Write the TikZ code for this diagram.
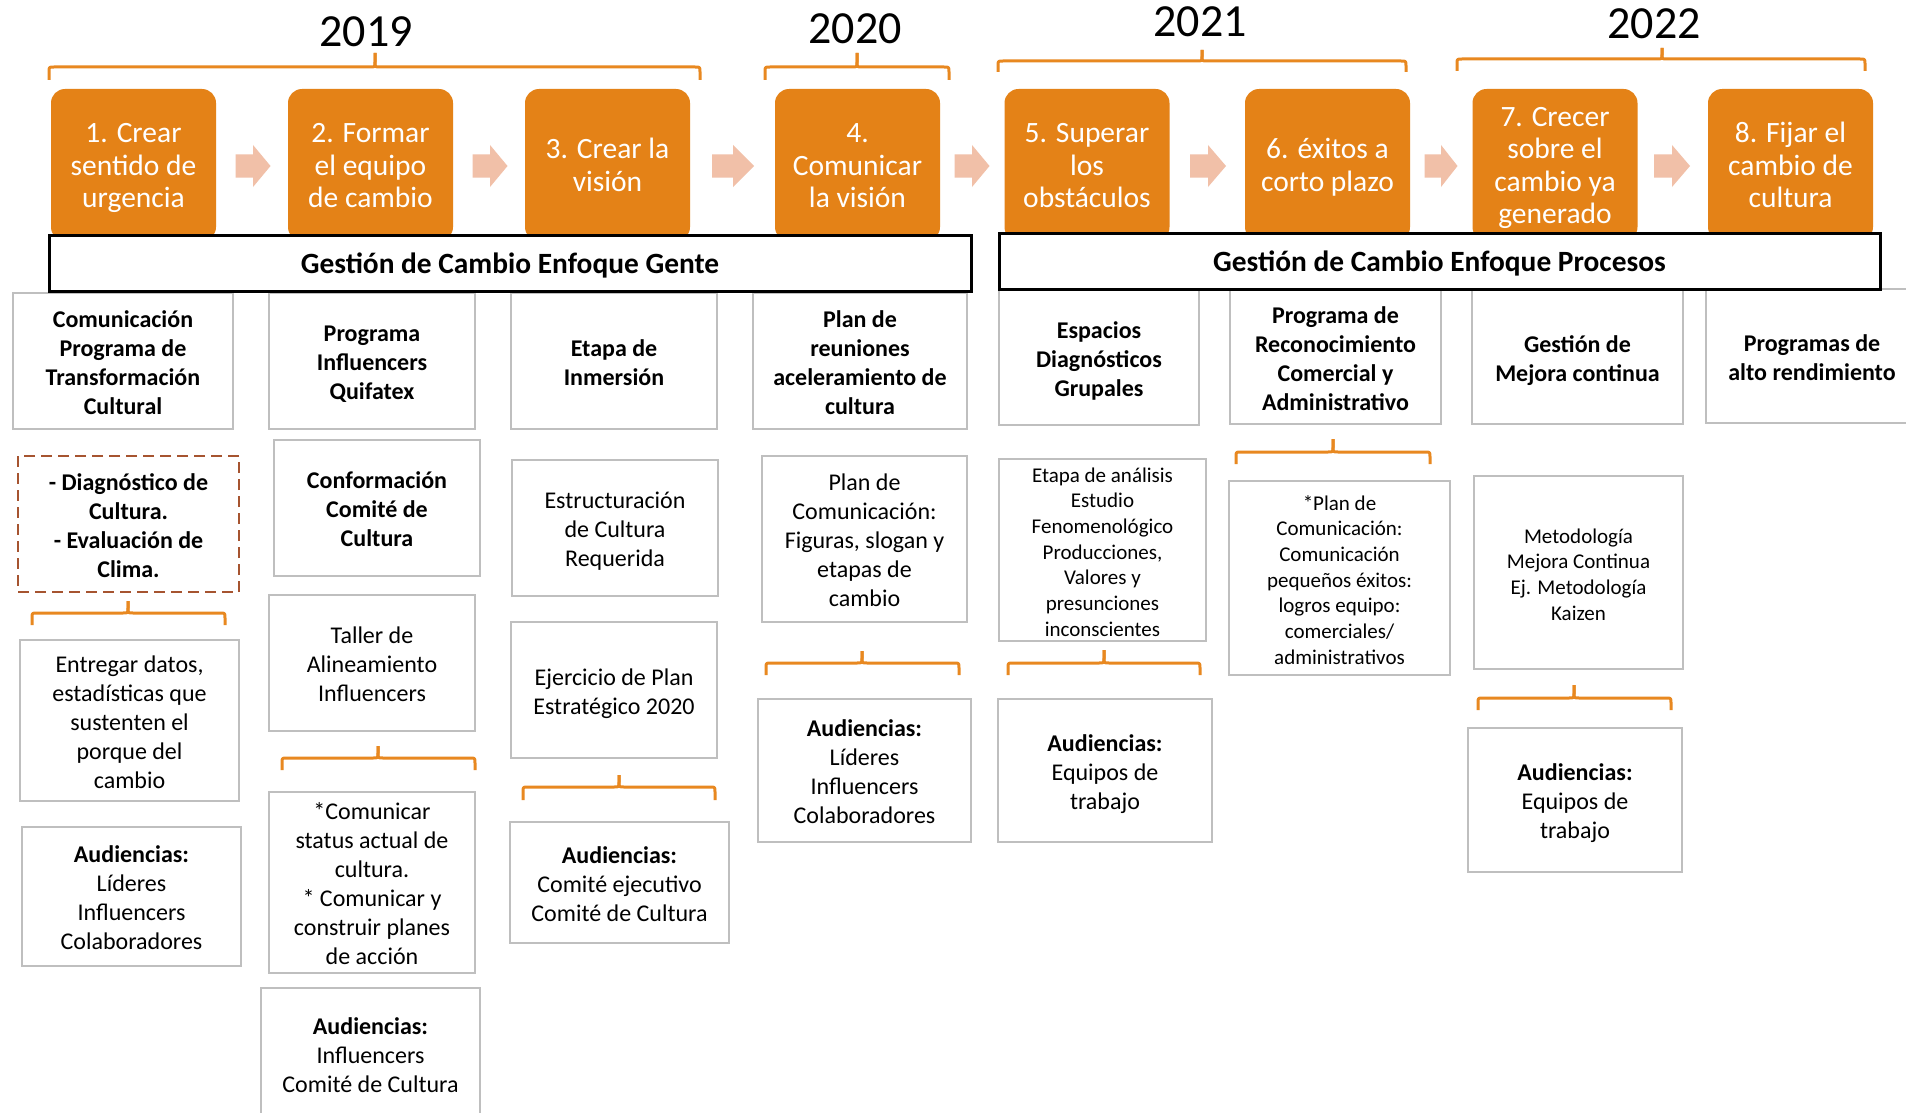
\documentclass[tikz,border=0pt]{standalone}
\usepackage{fontspec}
\setmainfont{Carlito}
\definecolor{orangeA}{RGB}{228,130,23}
\definecolor{chevcol}{RGB}{241,192,168}
\definecolor{graybd}{RGB}{191,191,191}
\definecolor{dashbd}{RGB}{166,84,48}
\definecolor{bracecol}{RGB}{232,136,32}
\tikzset{
  stepbox/.style={fill=orangeA, rounded corners=14pt, text=white, align=center,
    minimum width=165pt, minimum height=152pt, inner sep=0pt,
    font=\fontsize{29.5}{32.5}\selectfont},
  bandbox/.style={draw=black, line width=3pt, fill=white, inner sep=0pt,
    font=\bfseries\fontsize{29.4}{34}\selectfont},
  gbox/.style={draw=graybd, line width=2pt, fill=white, align=center, inner sep=0pt,
    font=\fontsize{24}{29}\selectfont},
  hbox/.style={gbox, font=\bfseries\fontsize{24}{29}\selectfont},
  sbox/.style={gbox, font=\fontsize{21}{25.7}\selectfont},
  dbox/.style={draw=dashbd, line width=2pt, dash pattern=on 11pt off 6pt, fill=white,
    align=center, inner sep=0pt, font=\bfseries\fontsize{24}{29}\selectfont},
  yearlbl/.style={inner sep=0pt, font=\fontsize{46}{50}\selectfont},
  bracestyle/.style={draw=bracecol, line width=3pt, line join=round},
}
% brace: x1, x2, xmid, ytip, yhoriz, yend
\newcommand\obr[6]{%
  \draw[bracestyle] (#1,#6) -- (#1,#5+5) .. controls (#1,#5) .. (#1+5,#5)
     -- (#3-5,#5) .. controls (#3,#5) .. (#3,#5-5) -- (#3,#4);
  \draw[bracestyle] (#2,#6) -- (#2,#5+5) .. controls (#2,#5) .. (#2-5,#5)
     -- (#3+5,#5) .. controls (#3,#5) .. (#3,#5-5) -- (#3,#4);}
% chevron block arrow: cx, cy, length
\newcommand\chev[3]{%
  \fill[chevcol] (#1-#3/2,#2-11.5) -- (#1,#2-11.5) -- (#1,#2-21) -- (#1+#3/2,#2)
     -- (#1,#2+21) -- (#1,#2+11.5) -- (#1-#3/2,#2+11.5) -- cycle;}
% text block lowered by #1 without changing its box
\newcommand\lines[2]{\raisebox{-#1}[\height][\depth]{\begin{tabular}{@{}c@{}}#2\end{tabular}}}
\newcommand\st[1]{\lines{3.5pt}{#1}}
\newcommand\gt[1]{\lines{4pt}{#1}}
\begin{document}
\begin{tikzpicture}[x=1pt,y=-1pt]
\useasboundingbox (0,0) rectangle (1906,1113);
\fill[white] (0,0) rectangle (1906,1113);
\clip (0,0) rectangle (1906,1113);

% years
\node[yearlbl] (y19) at (366,32) {2019};
\node[yearlbl] (y20) at (855,29) {2020};
\node[yearlbl] (y21) at (1200,22) {2021};
\node[yearlbl] (y22) at (1654,24) {2022};

% top braces
\obr{49}{700}{375}{53}{67}{80}
\obr{765}{949}{857}{53}{67}{80}
\obr{998}{1406}{1202}{50}{61}{72}
\obr{1457}{1865}{1662}{48}{59}{71}

% orange steps
\node[stepbox] (s1) at (133.5,165) {\st{1. Crear\\sentido de\\urgencia}};
\node[stepbox] (s2) at (370.5,165) {\st{2. Formar\\el equipo\\de cambio}};
\node[stepbox] (s3) at (607.5,165) {\st{3. Crear la\\visión}};
\node[stepbox] (s4) at (857.5,165) {\st{4.\\Comunicar\\la visión}};
\node[stepbox] (s5) at (1087,165) {\st{5. Superar\\los\\obstáculos}};
\node[stepbox] (s6) at (1327.5,165) {\st{6. éxitos a\\corto plazo}};
\node[stepbox] (s7) at (1555,165) {\st{7. Crecer\\sobre el\\cambio ya\\generado}};
\node[stepbox] (s8) at (1790.5,165) {\st{8. Fijar el\\cambio de\\cultura}};

% chevrons
\chev{253}{166}{35}
\chev{490}{166}{35}
\chev{733}{166}{42}
\chev{972}{166}{35}
\chev{1208}{166}{36}
\chev{1441}{166}{33}
\chev{1672}{166}{36}

% column 1
\node[hbox, minimum width=220pt, minimum height=136pt] (c1a) at (123,361)
  {\gt{Comunicación\\Programa de\\Transformación\\Cultural}};
\node[dbox, minimum width=221pt, minimum height=136pt] (c1b) at (128.5,524)
  {\gt{- Diagnóstico de\\Cultura.\\- Evaluación de\\Clima.}};
\obr{32}{225}{128}{601}{613}{625}
\node[gbox, minimum width=219pt, minimum height=161pt] (c1c) at (129.5,720.5)
  {\gt{Entregar datos,\\estadísticas que\\sustenten el\\porque del\\cambio}};
\node[gbox, minimum width=219pt, minimum height=139pt] (c1d) at (131.5,896.5)
  {\gt{\textbf{Audiencias:}\\Líderes\\Influencers\\Colaboradores}};

% column 2
\node[hbox, minimum width=206pt, minimum height=136pt] (c2a) at (372,361)
  {\gt{Programa\\Influencers\\Quifatex}};
\node[hbox, minimum width=206pt, minimum height=136pt] (c2b) at (377,508)
  {\gt{Conformación\\Comité de\\Cultura}};
\node[gbox, minimum width=206pt, minimum height=136pt] (c2c) at (372,663)
  {\gt{Taller de\\Alineamiento\\Influencers}};
\obr{282}{475}{378}{746}{758}{770}
\node[gbox, minimum width=206pt, minimum height=181pt] (c2d) at (372,882.5)
  {\gt{*Comunicar\\status actual de\\cultura.\\{}* Comunicar y\\construir planes\\de acción}};
\node[gbox, minimum width=219pt, minimum height=132pt] (c2e) at (370.5,1054)
  {\gt{\textbf{Audiencias:}\\Influencers\\Comité de Cultura}};

% column 3
\node[hbox, minimum width=206pt, minimum height=136pt] (c3a) at (614,361)
  {\gt{Etapa de\\Inmersión}};
\node[gbox, minimum width=206pt, minimum height=136pt] (c3b) at (615,528)
  {\gt{Estructuración\\de Cultura\\Requerida}};
\node[gbox, minimum width=206pt, minimum height=136pt] (c3c) at (614,690)
  {\gt{Ejercicio de Plan\\Estratégico 2020}};
\obr{523}{715}{619}{775}{787}{800}
\node[gbox, minimum width=219pt, minimum height=121pt] (c3d) at (619.5,882.5)
  {\gt{\textbf{Audiencias:}\\Comité ejecutivo\\Comité de Cultura}};

% column 4
\node[hbox, minimum width=214pt, minimum height=136pt] (c4a) at (860,361)
  {\gt{Plan de\\reuniones\\aceleramiento de\\cultura}};
\node[gbox, minimum width=205pt, minimum height=166pt] (c4b) at (864.5,539)
  {\gt{Plan de\\Comunicación:\\Figuras, slogan y\\etapas de\\cambio}};
\obr{766}{959}{862}{651}{663}{675}
\node[gbox, minimum width=213pt, minimum height=143pt] (c4c) at (864.5,770.5)
  {\gt{\textbf{Audiencias:}\\Líderes\\Influencers\\Colaboradores}};

% column 5
\node[hbox, minimum width=200pt, minimum height=135pt] (c5a) at (1099,357.5)
  {\gt{Espacios\\Diagnósticos\\Grupales}};
\node[sbox, minimum width=207pt, minimum height=182pt] (c5b) at (1102.5,550)
  {\gt{Etapa de análisis\\Estudio\\Fenomenológico\\Producciones,\\Valores y\\presunciones\\inconscientes}};
\obr{1008}{1200}{1104}{650}{663}{675}
\node[gbox, minimum width=214pt, minimum height=143pt] (c5c) at (1105,770.5)
  {\gt{\textbf{Audiencias:}\\Equipos de\\trabajo}};

% column 6
\node[hbox, minimum width=211pt, minimum height=134pt] (c6a) at (1335.5,357)
  {\gt{Programa de\\Reconocimiento\\Comercial y\\Administrativo}};
\obr{1236}{1430}{1333}{439}{452}{464}
\node[sbox, minimum width=221pt, minimum height=194pt] (c6b) at (1339.5,578)
  {\gt{*Plan de\\Comunicación:\\Comunicación\\pequeños éxitos:\\logros equipo:\\comerciales/\\administrativos}};

% column 7
\node[hbox, minimum width=211pt, minimum height=134pt] (c7a) at (1577.5,357)
  {\gt{Gestión de\\Mejora continua}};
\node[sbox, minimum width=209pt, minimum height=193pt] (c7b) at (1578.5,572.5)
  {\gt{Metodología\\Mejora Continua\\Ej. Metodología\\Kaizen}};
\obr{1478}{1671}{1574}{685}{698}{710}
\node[gbox, minimum width=214pt, minimum height=144pt] (c7c) at (1575,800)
  {\gt{\textbf{Audiencias:}\\Equipos de\\trabajo}};

% column 8
\node[hbox, minimum width=212pt, minimum height=134pt] (c8a) at (1812,356)
  {\gt{Programas de\\alto rendimiento}};

% bands
\node[bandbox, minimum width=922pt, minimum height=56pt] (gente) at (510,263)
  {\raisebox{-2.5pt}[\height][\depth]{Gestión de Cambio Enfoque Gente}};
\node[bandbox, minimum width=881pt, minimum height=56pt] (procesos) at (1439.5,261)
  {\raisebox{-2.5pt}[\height][\depth]{Gestión de Cambio Enfoque Procesos}};
\end{tikzpicture}
\end{document}
